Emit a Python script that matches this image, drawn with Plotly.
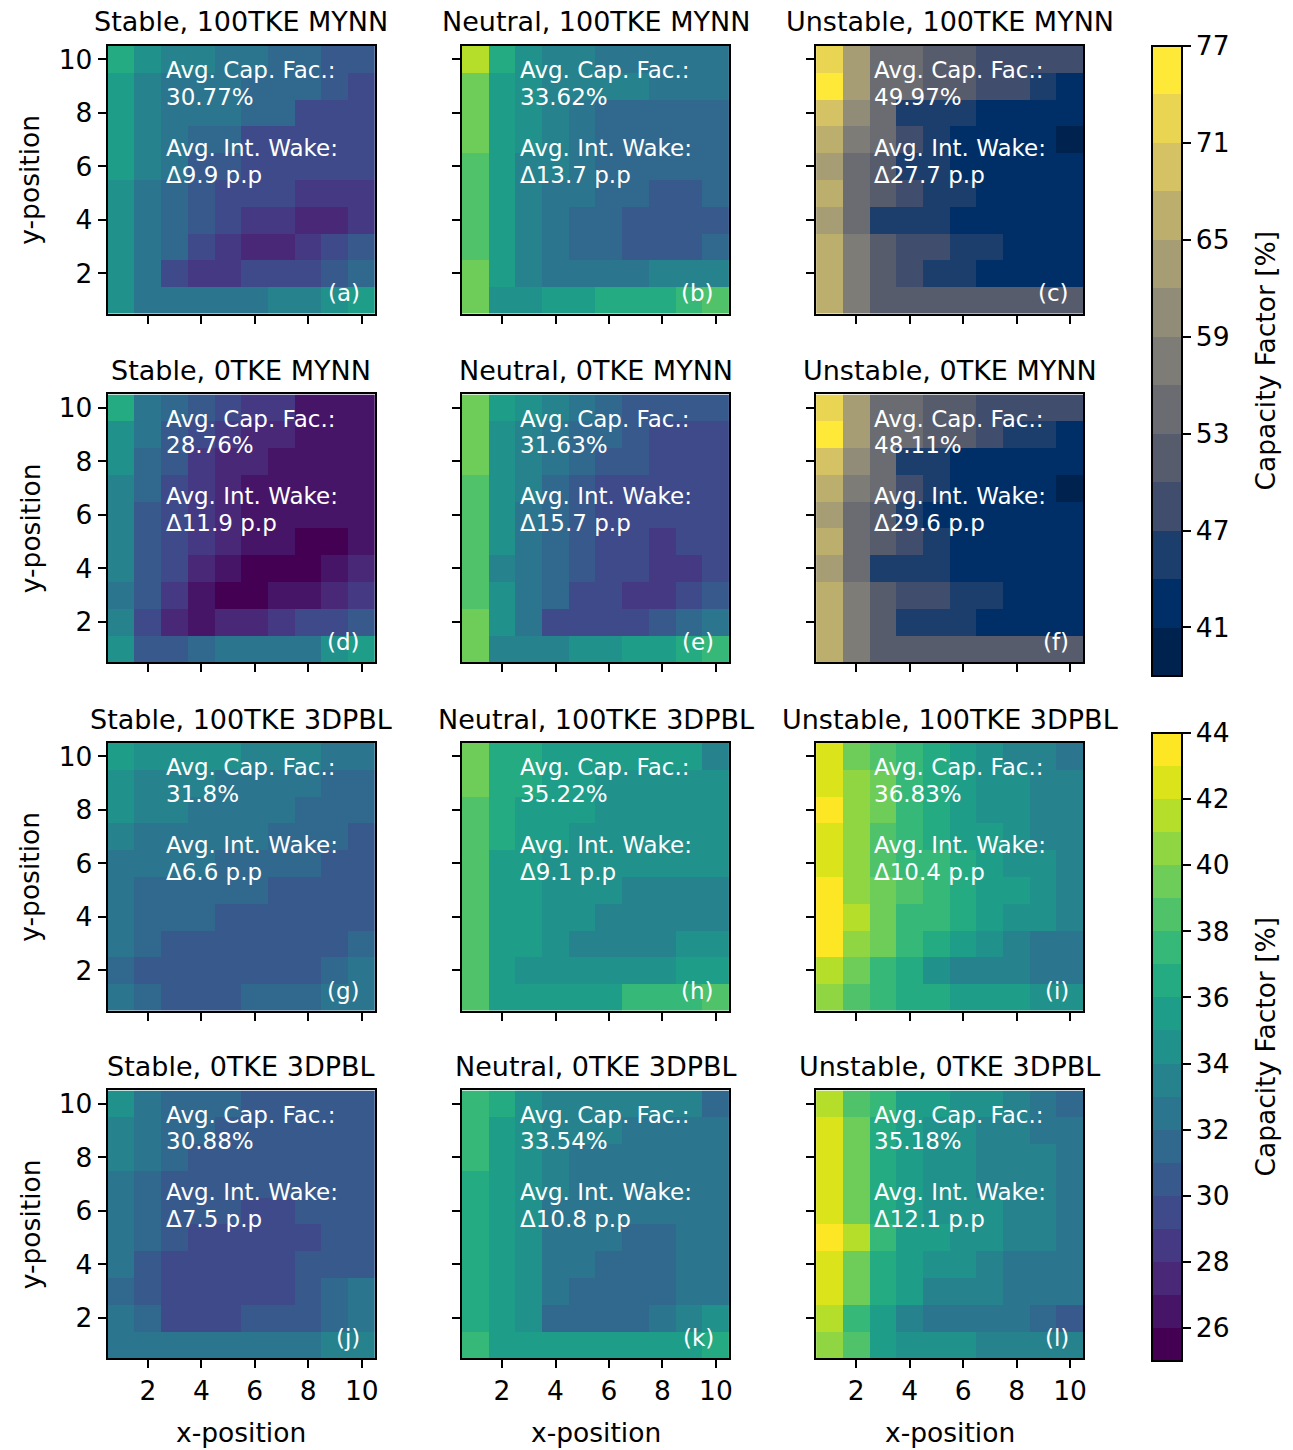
import plotly.graph_objects as go

# ---------------------------------------------------------------------------
# Turbine grid positions (10 x 10 array)
# ---------------------------------------------------------------------------
positions = list(range(1, 11))

# Capacity factor [%] per turbine; each grid is listed from the top row (y=10)
# down to the bottom row (y=1), columns x=1..10.
cf_stable_100tke_mynn = [
    [36.5, 34.5, 33.5, 33.5, 32.5, 32.5, 31.5, 31.5, 30.5, 30.5],
    [35.5, 33.5, 32.5, 32.5, 32.5, 31.5, 31.5, 31.5, 30.5, 29.5],
    [35.5, 33.5, 32.5, 32.5, 32.5, 31.5, 31.5, 29.5, 29.5, 29.5],
    [35.5, 33.5, 32.5, 31.5, 31.5, 29.5, 29.5, 29.5, 29.5, 29.5],
    [35.5, 33.5, 32.5, 30.5, 30.5, 29.5, 29.5, 29.5, 29.5, 29.5],
    [34.5, 32.5, 31.5, 30.5, 29.5, 29.5, 29.5, 28.5, 28.5, 28.5],
    [34.5, 32.5, 31.5, 30.5, 29.5, 28.5, 28.5, 27.5, 27.5, 28.5],
    [34.5, 32.5, 31.5, 29.5, 28.5, 27.5, 27.5, 28.5, 29.5, 30.5],
    [34.5, 32.5, 29.5, 28.5, 28.5, 29.5, 29.5, 29.5, 30.5, 31.5],
    [34.5, 32.5, 32.5, 32.5, 32.5, 32.5, 33.5, 33.5, 34.5, 35.5],
]
cf_neutral_100tke_mynn = [
    [41.5, 36.5, 34.5, 33.5, 33.5, 32.5, 32.5, 32.5, 32.5, 32.5],
    [39.5, 35.5, 34.5, 33.5, 33.5, 33.5, 33.5, 32.5, 32.5, 32.5],
    [39.5, 35.5, 34.5, 33.5, 32.5, 31.5, 31.5, 31.5, 31.5, 31.5],
    [39.5, 35.5, 34.5, 33.5, 32.5, 31.5, 31.5, 31.5, 31.5, 31.5],
    [38.5, 35.5, 33.5, 33.5, 32.5, 31.5, 31.5, 31.5, 31.5, 31.5],
    [38.5, 35.5, 33.5, 32.5, 32.5, 31.5, 31.5, 30.5, 30.5, 31.5],
    [38.5, 35.5, 33.5, 32.5, 31.5, 31.5, 30.5, 30.5, 30.5, 30.5],
    [38.5, 35.5, 33.5, 32.5, 31.5, 31.5, 30.5, 30.5, 30.5, 31.5],
    [39.5, 35.5, 33.5, 32.5, 32.5, 32.5, 32.5, 33.5, 33.5, 33.5],
    [39.5, 34.5, 34.5, 35.5, 35.5, 36.5, 36.5, 36.5, 37.5, 38.5],
]
cf_unstable_100tke_mynn = [
    [72.5, 63.5, 54.5, 54.5, 51.5, 51.5, 48.5, 48.5, 48.5, 48.5],
    [75.5, 63.5, 54.5, 54.5, 51.5, 51.5, 48.5, 48.5, 45.5, 42.5],
    [69.5, 60.5, 54.5, 45.5, 45.5, 45.5, 42.5, 42.5, 42.5, 42.5],
    [66.5, 57.5, 54.5, 48.5, 45.5, 42.5, 42.5, 42.5, 42.5, 39.5],
    [63.5, 54.5, 51.5, 45.5, 45.5, 42.5, 42.5, 42.5, 42.5, 42.5],
    [66.5, 54.5, 51.5, 48.5, 45.5, 45.5, 42.5, 42.5, 42.5, 42.5],
    [63.5, 54.5, 45.5, 45.5, 45.5, 42.5, 42.5, 42.5, 42.5, 42.5],
    [66.5, 57.5, 51.5, 48.5, 48.5, 45.5, 45.5, 42.5, 42.5, 42.5],
    [66.5, 57.5, 51.5, 48.5, 45.5, 45.5, 42.5, 42.5, 42.5, 42.5],
    [66.5, 57.5, 51.5, 51.5, 51.5, 51.5, 51.5, 51.5, 51.5, 51.5],
]
cf_stable_0tke_mynn = [
    [36.5, 32.5, 31.5, 30.5, 29.5, 28.5, 28.5, 26.5, 26.5, 26.5],
    [34.5, 32.5, 30.5, 29.5, 28.5, 27.5, 27.5, 26.5, 26.5, 26.5],
    [34.5, 31.5, 30.5, 28.5, 27.5, 27.5, 26.5, 26.5, 26.5, 26.5],
    [33.5, 31.5, 29.5, 28.5, 27.5, 26.5, 26.5, 26.5, 26.5, 26.5],
    [33.5, 30.5, 29.5, 28.5, 27.5, 26.5, 26.5, 26.5, 26.5, 26.5],
    [33.5, 30.5, 29.5, 28.5, 27.5, 26.5, 26.5, 25.5, 25.5, 26.5],
    [33.5, 30.5, 29.5, 27.5, 26.5, 25.5, 25.5, 25.5, 26.5, 27.5],
    [32.5, 30.5, 28.5, 26.5, 25.5, 25.5, 26.5, 26.5, 27.5, 28.5],
    [33.5, 29.5, 27.5, 26.5, 27.5, 27.5, 28.5, 29.5, 29.5, 30.5],
    [34.5, 30.5, 30.5, 31.5, 32.5, 32.5, 32.5, 32.5, 34.5, 35.5],
]
cf_neutral_0tke_mynn = [
    [39.5, 35.5, 34.5, 33.5, 32.5, 31.5, 30.5, 30.5, 30.5, 30.5],
    [39.5, 34.5, 33.5, 32.5, 31.5, 31.5, 30.5, 29.5, 29.5, 29.5],
    [39.5, 34.5, 33.5, 32.5, 31.5, 30.5, 30.5, 29.5, 29.5, 29.5],
    [38.5, 34.5, 33.5, 31.5, 30.5, 29.5, 29.5, 29.5, 29.5, 29.5],
    [38.5, 34.5, 32.5, 31.5, 30.5, 29.5, 29.5, 29.5, 29.5, 29.5],
    [38.5, 34.5, 32.5, 31.5, 30.5, 29.5, 29.5, 28.5, 29.5, 29.5],
    [38.5, 33.5, 32.5, 31.5, 30.5, 29.5, 29.5, 28.5, 28.5, 29.5],
    [38.5, 34.5, 32.5, 31.5, 29.5, 29.5, 28.5, 28.5, 29.5, 30.5],
    [39.5, 34.5, 32.5, 29.5, 29.5, 29.5, 29.5, 30.5, 31.5, 32.5],
    [39.5, 33.5, 33.5, 33.5, 34.5, 34.5, 35.5, 35.5, 36.5, 37.5],
]
cf_unstable_0tke_mynn = [
    [72.5, 63.5, 54.5, 54.5, 51.5, 51.5, 48.5, 48.5, 48.5, 48.5],
    [75.5, 63.5, 54.5, 54.5, 51.5, 51.5, 48.5, 45.5, 45.5, 42.5],
    [69.5, 60.5, 54.5, 45.5, 45.5, 42.5, 42.5, 42.5, 42.5, 42.5],
    [66.5, 57.5, 54.5, 48.5, 45.5, 42.5, 42.5, 42.5, 42.5, 39.5],
    [63.5, 54.5, 51.5, 45.5, 42.5, 42.5, 42.5, 42.5, 42.5, 42.5],
    [66.5, 54.5, 51.5, 48.5, 45.5, 42.5, 42.5, 42.5, 42.5, 42.5],
    [63.5, 54.5, 45.5, 45.5, 45.5, 42.5, 42.5, 42.5, 42.5, 42.5],
    [66.5, 57.5, 51.5, 48.5, 48.5, 45.5, 45.5, 42.5, 42.5, 42.5],
    [66.5, 57.5, 51.5, 45.5, 45.5, 45.5, 42.5, 42.5, 42.5, 42.5],
    [66.5, 57.5, 51.5, 51.5, 51.5, 51.5, 51.5, 51.5, 51.5, 51.5],
]
cf_stable_100tke_3dpbl = [
    [35.5, 34.5, 34.5, 34.5, 34.5, 33.5, 33.5, 33.5, 32.5, 32.5],
    [34.5, 33.5, 33.5, 33.5, 32.5, 32.5, 32.5, 32.5, 31.5, 31.5],
    [34.5, 33.5, 33.5, 32.5, 32.5, 32.5, 32.5, 31.5, 31.5, 31.5],
    [33.5, 32.5, 32.5, 32.5, 32.5, 32.5, 31.5, 31.5, 31.5, 30.5],
    [32.5, 32.5, 32.5, 32.5, 31.5, 31.5, 31.5, 31.5, 30.5, 30.5],
    [32.5, 31.5, 31.5, 31.5, 31.5, 31.5, 30.5, 30.5, 30.5, 30.5],
    [32.5, 31.5, 31.5, 31.5, 30.5, 30.5, 30.5, 30.5, 30.5, 30.5],
    [32.5, 31.5, 30.5, 30.5, 30.5, 30.5, 30.5, 30.5, 30.5, 31.5],
    [31.5, 30.5, 30.5, 30.5, 30.5, 30.5, 30.5, 30.5, 31.5, 32.5],
    [32.5, 31.5, 30.5, 30.5, 30.5, 31.5, 31.5, 31.5, 32.5, 32.5],
]
cf_neutral_100tke_3dpbl = [
    [39.5, 36.5, 36.5, 35.5, 35.5, 35.5, 35.5, 35.5, 35.5, 33.5],
    [39.5, 36.5, 36.5, 35.5, 35.5, 34.5, 34.5, 34.5, 34.5, 34.5],
    [38.5, 36.5, 35.5, 35.5, 35.5, 34.5, 34.5, 34.5, 34.5, 34.5],
    [38.5, 36.5, 35.5, 35.5, 34.5, 34.5, 34.5, 34.5, 34.5, 34.5],
    [38.5, 35.5, 35.5, 34.5, 34.5, 34.5, 34.5, 34.5, 34.5, 34.5],
    [38.5, 35.5, 35.5, 34.5, 34.5, 34.5, 33.5, 33.5, 33.5, 33.5],
    [38.5, 35.5, 35.5, 34.5, 34.5, 33.5, 33.5, 33.5, 33.5, 33.5],
    [38.5, 35.5, 35.5, 34.5, 33.5, 33.5, 33.5, 33.5, 34.5, 34.5],
    [38.5, 35.5, 34.5, 34.5, 34.5, 34.5, 34.5, 34.5, 35.5, 35.5],
    [38.5, 35.5, 35.5, 35.5, 35.5, 35.5, 37.5, 37.5, 37.5, 38.5],
]
cf_unstable_100tke_3dpbl = [
    [42.5, 39.5, 38.5, 37.5, 36.5, 35.5, 34.5, 33.5, 33.5, 32.5],
    [42.5, 40.5, 39.5, 37.5, 36.5, 35.5, 34.5, 34.5, 33.5, 33.5],
    [43.5, 40.5, 39.5, 37.5, 36.5, 35.5, 34.5, 34.5, 33.5, 33.5],
    [42.5, 40.5, 38.5, 37.5, 36.5, 35.5, 35.5, 34.5, 33.5, 33.5],
    [42.5, 40.5, 38.5, 37.5, 37.5, 36.5, 35.5, 34.5, 34.5, 33.5],
    [43.5, 40.5, 39.5, 38.5, 37.5, 36.5, 35.5, 35.5, 34.5, 33.5],
    [43.5, 41.5, 39.5, 37.5, 37.5, 36.5, 35.5, 34.5, 34.5, 33.5],
    [43.5, 40.5, 39.5, 37.5, 36.5, 35.5, 34.5, 33.5, 32.5, 32.5],
    [41.5, 39.5, 37.5, 36.5, 34.5, 33.5, 33.5, 33.5, 32.5, 32.5],
    [40.5, 38.5, 37.5, 36.5, 36.5, 35.5, 35.5, 35.5, 34.5, 34.5],
]
cf_stable_0tke_3dpbl = [
    [34.5, 32.5, 31.5, 31.5, 31.5, 30.5, 30.5, 30.5, 30.5, 30.5],
    [33.5, 32.5, 31.5, 31.5, 30.5, 30.5, 30.5, 30.5, 30.5, 30.5],
    [33.5, 32.5, 31.5, 30.5, 30.5, 30.5, 30.5, 30.5, 30.5, 30.5],
    [32.5, 31.5, 30.5, 30.5, 30.5, 30.5, 30.5, 30.5, 30.5, 30.5],
    [32.5, 31.5, 30.5, 30.5, 30.5, 29.5, 29.5, 30.5, 30.5, 30.5],
    [32.5, 31.5, 30.5, 29.5, 29.5, 29.5, 29.5, 29.5, 30.5, 30.5],
    [32.5, 30.5, 29.5, 29.5, 29.5, 29.5, 29.5, 30.5, 30.5, 30.5],
    [31.5, 30.5, 29.5, 29.5, 29.5, 29.5, 29.5, 30.5, 31.5, 32.5],
    [32.5, 31.5, 29.5, 29.5, 29.5, 30.5, 30.5, 30.5, 31.5, 32.5],
    [32.5, 32.5, 32.5, 32.5, 32.5, 32.5, 32.5, 32.5, 33.5, 33.5],
]
cf_neutral_0tke_3dpbl = [
    [37.5, 36.5, 34.5, 33.5, 33.5, 33.5, 33.5, 33.5, 33.5, 31.5],
    [37.5, 35.5, 34.5, 33.5, 33.5, 33.5, 32.5, 32.5, 32.5, 32.5],
    [37.5, 35.5, 34.5, 33.5, 32.5, 32.5, 32.5, 32.5, 32.5, 32.5],
    [36.5, 35.5, 34.5, 33.5, 32.5, 32.5, 32.5, 32.5, 32.5, 32.5],
    [36.5, 35.5, 34.5, 32.5, 32.5, 32.5, 32.5, 32.5, 32.5, 32.5],
    [36.5, 35.5, 34.5, 32.5, 32.5, 32.5, 31.5, 31.5, 32.5, 32.5],
    [36.5, 35.5, 34.5, 32.5, 32.5, 31.5, 31.5, 31.5, 32.5, 32.5],
    [36.5, 35.5, 34.5, 32.5, 31.5, 31.5, 31.5, 31.5, 32.5, 32.5],
    [36.5, 35.5, 34.5, 31.5, 31.5, 31.5, 31.5, 32.5, 33.5, 34.5],
    [37.5, 35.5, 35.5, 35.5, 35.5, 35.5, 35.5, 35.5, 35.5, 36.5],
]
cf_unstable_0tke_3dpbl = [
    [41.5, 38.5, 37.5, 35.5, 35.5, 34.5, 34.5, 33.5, 32.5, 31.5],
    [42.5, 39.5, 36.5, 35.5, 34.5, 34.5, 33.5, 33.5, 32.5, 32.5],
    [42.5, 39.5, 36.5, 35.5, 34.5, 34.5, 33.5, 33.5, 33.5, 32.5],
    [42.5, 39.5, 36.5, 35.5, 34.5, 34.5, 33.5, 33.5, 33.5, 32.5],
    [42.5, 39.5, 36.5, 35.5, 34.5, 34.5, 34.5, 33.5, 33.5, 32.5],
    [43.5, 41.5, 37.5, 35.5, 35.5, 34.5, 34.5, 33.5, 33.5, 32.5],
    [42.5, 39.5, 36.5, 35.5, 34.5, 34.5, 33.5, 32.5, 32.5, 32.5],
    [42.5, 39.5, 36.5, 35.5, 33.5, 33.5, 33.5, 32.5, 32.5, 32.5],
    [41.5, 37.5, 35.5, 33.5, 32.5, 32.5, 32.5, 32.5, 31.5, 30.5],
    [40.5, 38.5, 35.5, 34.5, 34.5, 34.5, 33.5, 33.5, 33.5, 33.5],
]

grids = [
    cf_stable_100tke_mynn, cf_neutral_100tke_mynn, cf_unstable_100tke_mynn,
    cf_stable_0tke_mynn, cf_neutral_0tke_mynn, cf_unstable_0tke_mynn,
    cf_stable_100tke_3dpbl, cf_neutral_100tke_3dpbl, cf_unstable_100tke_3dpbl,
    cf_stable_0tke_3dpbl, cf_neutral_0tke_3dpbl, cf_unstable_0tke_3dpbl,
]
titles = [
    "Stable, 100TKE MYNN", "Neutral, 100TKE MYNN", "Unstable, 100TKE MYNN",
    "Stable, 0TKE MYNN", "Neutral, 0TKE MYNN", "Unstable, 0TKE MYNN",
    "Stable, 100TKE 3DPBL", "Neutral, 100TKE 3DPBL", "Unstable, 100TKE 3DPBL",
    "Stable, 0TKE 3DPBL", "Neutral, 0TKE 3DPBL", "Unstable, 0TKE 3DPBL",
]
avg_cap_fac = ["30.77%", "33.62%", "49.97%", "28.76%", "31.63%", "48.11%",
               "31.8%", "35.22%", "36.83%", "30.88%", "33.54%", "35.18%"]
avg_int_wake = ["Δ9.9 p.p", "Δ13.7 p.p", "Δ27.7 p.p", "Δ11.9 p.p", "Δ15.7 p.p",
                "Δ29.6 p.p", "Δ6.6 p.p", "Δ9.1 p.p", "Δ10.4 p.p", "Δ7.5 p.p",
                "Δ10.8 p.p", "Δ12.1 p.p"]
panel_tags = ["(a)", "(b)", "(c)", "(d)", "(e)", "(f)",
              "(g)", "(h)", "(i)", "(j)", "(k)", "(l)"]
# panels (c) and (f) use the wide-range cividis scale
uses_wide_scale = [False, False, True, False, False, True,
                   False, False, False, False, False, False]

axis_ticks = [2, 4, 6, 8, 10]
narrow_ticks = [26, 28, 30, 32, 34, 36, 38, 40, 42, 44]
wide_ticks = [41, 47, 53, 59, 65, 71, 77]
colorbar_label = "Capacity Factor [%]"

# ---------------------------------------------------------------------------
# Colour maps (banded)
# ---------------------------------------------------------------------------
VIRIDIS = ["#440154", "#471365", "#482475", "#463480", "#414487", "#3b528b",
           "#355f8d", "#2f6c8e", "#2a788e", "#25848e", "#21918c", "#1e9c89",
           "#22a884", "#2fb47c", "#44bf70", "#5ec962", "#7ad151", "#9bd93c",
           "#bddf26", "#dfe318", "#fde725"]
CIVIDIS = ["#00224e", "#00336f", "#39486b", "#575c6d", "#707173",
           "#8a8779", "#a69d75", "#c4b56c", "#e4cf5b", "#fee838"]


def _rgb(h):
    h = h.lstrip("#")
    return [int(h[i:i + 2], 16) for i in (0, 2, 4)]


def _sample(anchors, t):
    pos = t * (len(anchors) - 1)
    i = min(int(pos), len(anchors) - 2)
    f = pos - i
    a, b = _rgb(anchors[i]), _rgb(anchors[i + 1])
    c = [round(a[k] + (b[k] - a[k]) * f) for k in range(3)]
    return "rgb({},{},{})".format(*c)


def banded(anchors, n):
    cols = [_sample(anchors, k / (n - 1)) for k in range(n)]
    scale = []
    for k, c in enumerate(cols):
        scale.append([k / n, c])
        scale.append([(k + 1) / n, c])
    return scale


narrow_min, narrow_max = 25, 44
wide_min, wide_max = 38, 77
narrow_scale = banded(VIRIDIS, narrow_max - narrow_min)
wide_scale = banded(CIVIDIS, (wide_max - wide_min) // 3)

# ---------------------------------------------------------------------------
# Layout geometry (pixels)
# ---------------------------------------------------------------------------
W, H = 1293, 1450
col_px = [(108, 376), (463, 731), (818, 1086)]
row_px = [(44, 312), (393, 661), (742, 1010), (1090, 1358)]
cbar_px = [(44, 674), (732, 1360)]
FONT = "DejaVu Sans"
TITLE = 27
LABEL = 26.5
TICK = 26.5
TXT = 23

fig = go.Figure()
layout_axes = {}
annotations = []

for k in range(12):
    r, c = divmod(k, 3)
    n = k + 1
    xa = "x" if n == 1 else f"x{n}"
    ya = "y" if n == 1 else f"y{n}"
    x0, x1 = col_px[c]
    y0, y1 = row_px[r]

    fig.add_trace(go.Heatmap(
        x=positions, y=positions, z=list(reversed(grids[k])),
        coloraxis="coloraxis2" if uses_wide_scale[k] else "coloraxis",
        xaxis=xa, yaxis=ya, hoverinfo="skip",
    ))

    common = dict(
        range=[0.5, 10.5], tickvals=axis_ticks, ticks="outside", ticklen=8,
        tickwidth=2, tickcolor="black", showline=True, linewidth=2,
        linecolor="black", mirror=True, showgrid=False, zeroline=False,
        tickfont=dict(size=TICK, color="black", family=FONT),
    )
    layout_axes["xaxis" if n == 1 else f"xaxis{n}"] = dict(
        common, domain=[x0 / W, x1 / W], anchor=ya, showticklabels=(r == 3),
    )
    layout_axes["yaxis" if n == 1 else f"yaxis{n}"] = dict(
        common, domain=[1 - y1 / H, 1 - y0 / H], anchor=xa,
        showticklabels=(c == 0),
    )

    xd = f"{xa} domain"
    yd = f"{ya} domain"
    white = dict(size=TXT, color="white", family=FONT)
    for text, yfrac in ((("Avg. Cap. Fac.:", 0.910), (avg_cap_fac[k], 0.810),
                         ("Avg. Int. Wake:", 0.619), (avg_int_wake[k], 0.519))):
        annotations.append(dict(
            text=text, xref=xd, yref=yd, x=0.210, y=yfrac,
            xanchor="left", yanchor="middle", showarrow=False, font=white,
        ))
    annotations.append(dict(
        text=panel_tags[k], xref=xd, yref=yd, x=0.952, y=0.075,
        xanchor="right", yanchor="middle", showarrow=False, font=white,
    ))
    annotations.append(dict(
        text=titles[k], xref="paper", yref="paper", x=(x0 + x1) / 2 / W,
        y=1 - (y0 - 24) / H, xanchor="center", yanchor="middle",
        showarrow=False, font=dict(size=TITLE, color="black", family=FONT),
    ))
    if c == 0:
        annotations.append(dict(
            text="y-position", xref="paper", yref="paper", x=30 / W,
            y=1 - (y0 + y1) / 2 / H, xanchor="center", yanchor="middle",
            textangle=-90, showarrow=False,
            font=dict(size=LABEL, color="black", family=FONT),
        ))
    if r == 3:
        annotations.append(dict(
            text="x-position", xref="paper", yref="paper", x=(x0 + x1) / 2 / W,
            y=1 - 1432 / H, xanchor="center", yanchor="middle",
            showarrow=False, font=dict(size=LABEL, color="black", family=FONT),
        ))

# colour-bar labels, placed to the right of the tick numbers
for top, bottom in cbar_px:
    annotations.append(dict(
        text=colorbar_label, xref="paper", yref="paper", x=1268 / W,
        y=1 - (top + bottom) / 2 / H, xanchor="center", yanchor="middle",
        textangle=-90, showarrow=False,
        font=dict(size=LABEL, color="black", family=FONT),
    ))


def colorbar(top, bottom, ticks):
    return dict(
        x=1155 / W, xanchor="left", xpad=0, ypad=0,
        y=1 - top / H, yanchor="top", len=bottom - top, lenmode="pixels",
        thickness=30, thicknessmode="pixels", outlinewidth=2,
        outlinecolor="black", ticks="outside", ticklen=8, tickwidth=2,
        tickcolor="black", tickvals=ticks,
        tickfont=dict(size=TICK, color="black", family=FONT),
    )


fig.update_layout(
    width=W, height=H,
    margin=dict(l=0, r=0, t=0, b=0),
    paper_bgcolor="white", plot_bgcolor="white",
    font=dict(family=FONT, size=TICK, color="black"),
    showlegend=False,
    coloraxis=dict(cmin=narrow_min, cmax=narrow_max, colorscale=narrow_scale,
                   colorbar=colorbar(*cbar_px[1], narrow_ticks)),
    coloraxis2=dict(cmin=wide_min, cmax=wide_max, colorscale=wide_scale,
                    colorbar=colorbar(*cbar_px[0], wide_ticks)),
    annotations=annotations,
    **layout_axes,
)

fig.write_html("out.html")
